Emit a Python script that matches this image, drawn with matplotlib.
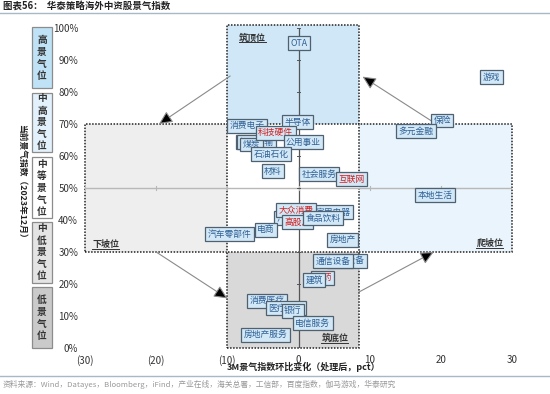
import matplotlib
matplotlib.use("Agg")
import matplotlib.pyplot as plt
from matplotlib.patches import Rectangle
from matplotlib.ticker import FuncFormatter

plt.rcParams['font.family'] = ['Noto Sans CJK SC', 'DejaVu Sans']

# ---- data ----
labels = ['OTA', '游戏', '保险', '多元金融', '本地生活',
          '交通运输', '钢铁', '煤炭', '消费电子', '半导体', '科技硬件',
          '公用事业', '石油石化', '材料', '社会服务', '互联网',
          '家用电器', '汽车', '大众消费', '高股息', '食品饮料', '电商',
          '汽车零部件', '房地产', '机械设备', '通信设备', '医药', '建筑',
          '消费医疗', '医疗器械', '银行', '电信服务', '房地产服务']
chg = [0.1, 27.1, 20.2, 16.5, 19.2,
       -6.0, -7.0, -6.6, -7.2, -0.1, -3.2,
       0.7, -3.9, -3.6, 2.9, 7.5,
       4.8, -1.8, -0.4, -0.1, 3.5, -4.6,
       -9.7, 6.2, 6.8, 4.9, 3.4, 2.2,
       -4.4, -1.8, -0.8, 2.0, -4.6]
level = [95.3, 84.6, 71.1, 67.7, 47.8,
         64.4, 64.3, 63.6, 69.4, 70.6, 67.3,
         64.4, 60.6, 55.3, 54.4, 52.8,
         42.4, 40.6, 43.1, 39.3, 40.6, 36.9,
         35.6, 33.8, 27.2, 27.2, 21.9, 21.3,
         14.7, 12.5, 11.6, 7.8, 4.1]
red_labels = ['科技硬件', '互联网', '大众消费', '高股息', '医药']

x_ticks = [-30, -20, -10, 0, 10, 20, 30]
y_ticks = [0, 10, 20, 30, 40, 50, 60, 70, 80, 90, 100]

# quadrant zones: name, x0, x1, y0, y1, fill
zones = [('筑顶位', -10, 8.5, 70, 101, '#cfe7f7'),
         ('下坡位', -30, -10, 30, 70, '#eeeeee'),
         ('筑底位', -10, 8.5, 0, 30, '#d9d9d9'),
         ('爬坡位', 8.5, 30, 30, 70, '#e9f4fc')]
# arrows between zones: (start, end)
moves = [((-9.6, 85), (-19.6, 70)),
         ((-20, 30), (-10, 15.5)),
         ((8.5, 17.5), (19, 30)),
         ((19, 70.5), (9, 84.8))]

levels_side = ['高景气位', '中高景气位', '中等景气位', '中低景气位', '低景气位']
side_colors = ['#bfe2f6', '#e2f1fb', '#ffffff', '#e4e4e4', '#cacaca']

W, H = 550, 394
fig = plt.figure(figsize=(W / 100, H / 100), dpi=100)
ax = fig.add_axes([85 / W, 1 - 348 / H, 427 / W, 320 / H])
ax.set_xlim(-30, 30)
ax.set_ylim(0, 100)

for name, x0, x1, y0, y1, fc in zones:
    ax.add_patch(Rectangle((x0, y0), x1 - x0, y1 - y0, facecolor=fc,
                           edgecolor='#222222', linestyle=(0, (1, 1)),
                           linewidth=1.1, zorder=0.5, clip_on=False))

ax.axhline(50, color='#b8b8b8', lw=1.0, zorder=1)
ax.axvline(0, color='#555555', lw=0.9, zorder=1)
for t in x_ticks:
    ax.plot([t, t], [49.4, 50.6], color='#b8b8b8', lw=0.8, zorder=1)
for t in y_ticks:
    ax.plot([-0.25, 0.25], [t, t], color='#555555', lw=0.7, zorder=1)

for (x0, y0), (x1, y1) in moves:
    ax.annotate('', xy=(x1, y1), xytext=(x0, y0),
                arrowprops=dict(arrowstyle='-|>,head_length=0.8,head_width=0.38',
                                ec='#8a8a8a', fc='black', lw=0.8,
                                shrinkA=0, shrinkB=0),
                zorder=2, annotation_clip=False)

for lab, x, y in zip(labels, chg, level):
    col = '#d22020' if lab in red_labels else '#2f5f96'
    ax.text(x, y, lab, ha='center', va='center', fontsize=6.3, color=col,
            zorder=3,
            bbox=dict(boxstyle='square,pad=0.28', facecolor='#d2e8f6',
                      edgecolor='#4f6070', linewidth=0.9))

# zone names, bold and underlined
zone_text = [('筑顶位', -8.4, 97.0, 'left'),
             ('下坡位', -29.0, 32.5, 'left'),
             ('筑底位', 7.0, 3.0, 'right'),
             ('爬坡位', 28.8, 32.8, 'right')]
zt_objs = []
for name, x, y, ha in zone_text:
    zt_objs.append(ax.text(x, y, name, ha=ha, va='center', fontsize=6.5,
                           fontweight='bold', color='#333333', zorder=4))

ax.set_xticks(x_ticks)
ax.set_yticks(y_ticks)
ax.xaxis.set_major_formatter(FuncFormatter(
    lambda v, p: '(%d)' % abs(v) if v < 0 else '%d' % v))
ax.yaxis.set_major_formatter(FuncFormatter(lambda v, p: '%d%%' % v))
ax.tick_params(length=0, labelsize=7, colors='#333333')
ax.tick_params(axis='x', pad=5)
ax.tick_params(axis='y', pad=5)
for s in ax.spines.values():
    s.set_visible(False)
ax.patch.set_alpha(0)

# left side level column
ys = [(27, 88), (93, 152), (157, 218), (222, 283), (287, 348)]
for (t, b), txt, fc in zip(ys, levels_side, side_colors):
    fig.patches.append(Rectangle((32 / W, 1 - b / H), 20 / W, (b - t) / H,
                                 transform=fig.transFigure, facecolor=fc,
                                 edgecolor='#8c8c8c', linewidth=0.9))
    fig.text(42 / W, 1 - (t + b) / 2 / H, '\n'.join(txt), ha='center',
             va='center', fontsize=7, fontweight='bold', color='#333333',
             linespacing=1.25)

fig.text(22 / W, 1 - 183 / H, '当前景气指数（2023年12月）', rotation=-90,
         ha='center', va='center', fontsize=6.3, fontweight='bold',
         color='#222222')
fig.text(304 / W, 1 - 367 / H, '3M景气指数环比变化（处理后，pct）',
         ha='center', va='center', fontsize=6.5, fontweight='bold',
         color='#222222')

fig.text(3 / W, 1 - 6 / H, '图表56：  华泰策略海外中资股景气指数',
         ha='left', va='center', fontsize=6.8, fontweight='bold',
         color='#222222')
fig.add_artist(plt.Line2D([0, 1], [1 - 13 / H, 1 - 13 / H],
                          transform=fig.transFigure, color='#a9b8c8', lw=1))
fig.add_artist(plt.Line2D([0, 1], [1 - 376 / H, 1 - 376 / H],
                          transform=fig.transFigure, color='#a9b8c8', lw=1))
fig.text(3 / W, 1 - 384 / H,
         '资料来源：Wind，Datayes，Bloomberg，iFind，产业在线，海关总署，工信部，百度指数，伽马游戏，华泰研究',
         ha='left', va='center', fontsize=5.6, color='#999999')

# underline the zone names
fig.canvas.draw()
r = fig.canvas.get_renderer()
inv = ax.transData.inverted()
for t in zt_objs:
    bb = t.get_window_extent(r)
    (x0, y0), (x1, _) = inv.transform([(bb.x0, bb.y0), (bb.x1, bb.y0)])
    ax.plot([x0, x1], [y0, y0], color='#333333', lw=0.7, zorder=4)

fig.savefig('out.png', dpi=100)
